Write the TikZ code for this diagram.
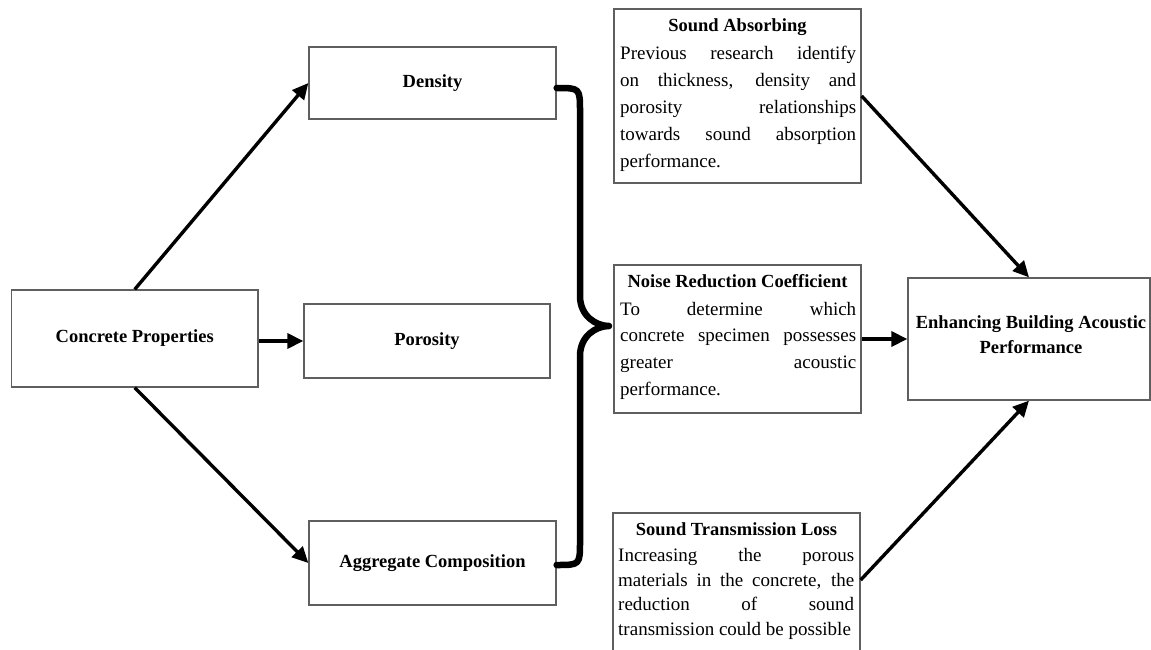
\documentclass[tikz,border=0pt]{standalone}
\usepackage{fontspec}
\setmainfont{Liberation Serif}
\usetikzlibrary{arrows.meta}
\definecolor{boxgray}{RGB}{95,95,95}
\newcommand{\jline}[1]{\makebox[\linewidth][s]{#1}}
\tikzset{
  box/.style={draw=boxgray, line width=1.3pt, inner sep=0pt, fill=white},
  lbl/.style={font=\bfseries\fontsize{18.5}{25}\selectfont, align=center},
  ttl/.style={font=\bfseries\fontsize{18.5}{25}\selectfont, inner sep=0pt},
  bodytxt/.style={inner sep=0pt},
  arr/.style={line width=3.4pt, -{Triangle[length=16pt,width=15pt]}},
  bracestyle/.style={line width=6.5pt, line cap=round, line join=round},
}
\begin{document}
\begin{tikzpicture}[x=1pt,y=-1pt]
\useasboundingbox (0,0) rectangle (1151,650);
\fill[white] (0,0) rectangle (1151,650);

% left column
\node[box, minimum width=246.5pt, minimum height=97pt, lbl] (cp) at (134.75,338.5) {Concrete Properties};
\node[box, minimum width=247pt, minimum height=72pt, lbl] (den) at (432.5,83) {Density};
\node[box, minimum width=246pt, minimum height=74pt, lbl] (por) at (427,341) {Porosity};
\node[box, minimum width=247pt, minimum height=84pt, lbl] (agg) at (432.5,563) {Aggregate Composition};

% middle column boxes
\node[box, minimum width=247pt, minimum height=174pt] (sa) at (737.5,96) {};
\node[box, minimum width=247pt, minimum height=148pt] (nrc) at (737.5,339) {};
\node[box, minimum width=247pt, minimum height=147pt] (stl) at (736.5,586.5) {};

% right box
\node[box, minimum width=242pt, minimum height=122pt] (enh) at (1029,339) {};
\node[ttl, anchor=base] (enhT) at (1031,328) {\parbox[t]{240pt}{\centering Enhancing Building Acoustic\\Performance}};

% Sound Absorbing text
\node[ttl, anchor=base] (saT) at (737.5,32) {Sound Absorbing};
\node[bodytxt, anchor=base west] (saB) at (620,59.5) {\parbox[t]{236pt}{\fontsize{19}{27}\selectfont
\jline{Previous research identify}\\
\jline{on thickness, density and}\\
\jline{porosity relationships}\\
\jline{towards sound absorption}\\
performance.}};

% Noise Reduction Coefficient text
\node[ttl, anchor=base] (nrcT) at (737.5,287) {Noise Reduction Coefficient};
\node[bodytxt, anchor=base west] (nrcB) at (620,315) {\parbox[t]{236pt}{\fontsize{19}{26.8}\selectfont
\jline{To determine which}\\
\jline{concrete specimen possesses}\\
\jline{greater acoustic}\\
performance.}};

% Sound Transmission Loss text
\node[ttl, anchor=base] (stlT) at (736.5,535) {Sound Transmission Loss};
\node[bodytxt, anchor=base west] (stlB) at (618,561.5) {\parbox[t]{236pt}{\fontsize{19}{24.5}\selectfont
\jline{Increasing the porous}\\
\jline{materials in the concrete, the}\\
\jline{reduction of sound}\\
transmission could be possible}};

% arrows
\draw[arr] (cp.north) -- (den.west);
\draw[arr] (por.west -| cp.east) -- (por.west);
\draw[arr] (cp.south) -- (agg.west);
\draw[arr] (sa.east) -- (enh.north);
\draw[arr] (nrc.east) -- (enh.west);
\draw[arr] ([yshift=6.5pt]stl.east) -- (enh.south);

% brace
\coordinate (tip) at (609,326);
\draw[bracestyle] ([yshift=-5pt]den.east) .. controls (580,88) .. (580,112) -- (580,296)
  .. controls (580,316) and (596,326) .. (tip)
  .. controls (596,326) and (580,336) .. (580,356) -- (580,541)
  .. controls (580,565) .. ([yshift=-2pt]agg.east);
\end{tikzpicture}
\end{document}
